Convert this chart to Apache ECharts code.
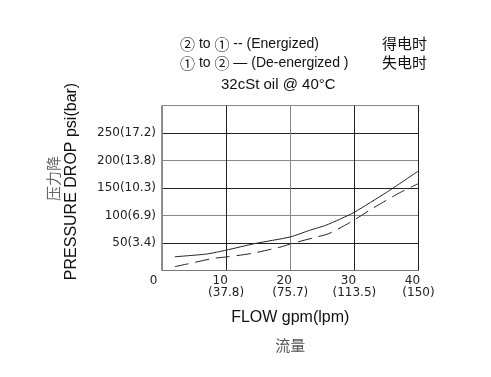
<!DOCTYPE html>
<html>
<head>
<meta charset="utf-8">
<script src="https://cdn.jsdelivr.net/npm/echarts@6/dist/echarts.min.js"></script>
<style>
  html, body { margin: 0; padding: 0; background: #fff; }
  #chart { width: 491px; height: 377px; }
</style>
</head>
<body>
<div id="chart"></div>
<script>
// 失电时 (De-energized) 实线
const deEnergizedFlow = [2, 7, 10, 14.5, 20, 23, 25.5, 27.7, 30, 35, 40];
const deEnergizedPsi = [25, 30, 37, 49, 61, 73, 82, 93, 106, 142, 181];
// 得电时 (Energized) 虚线
const energizedFlow = [2, 4, 8, 10.3, 14, 18.6, 20.2, 23.5, 26, 28.5, 30, 33, 37, 40];
const energizedPsi = [7, 12, 22, 25, 31, 43, 49, 59, 67, 82, 92, 114, 141, 158];

// 刻度标签
const psiTicks = [50, 100, 150, 200, 250];
const barLabels = ['3.4', '6.9', '10.3', '13.8', '17.2'];
const gpmTicks = [0, 10, 20, 30, 40];
const lpmLabels = ['', '37.8', '75.7', '113.5', '150'];

const chart = echarts.init(document.getElementById('chart'));

const latin = '"Liberation Sans", Arial, sans-serif';
const cjk = '"Noto Sans CJK SC", sans-serif';

const option = {
  backgroundColor: '#fff',
  animation: false,
  title: [
    {
      text: '{c|②} to {c|①} -- (Energized)',
      left: 175, top: 32,
      textStyle: {
        fontFamily: latin, fontSize: 14, fontWeight: 'normal', color: '#111',
        rich: { c: { fontFamily: cjk, fontSize: 15, color: '#111' } },
      },
    },
    {
      text: '{c|①} to {c|②} \u2014 (De-energized )',
      left: 175, top: 51,
      textStyle: {
        fontFamily: latin, fontSize: 14, fontWeight: 'normal', color: '#111',
        rich: { c: { fontFamily: cjk, fontSize: 15, color: '#111' } },
      },
    },
    {
      text: '32cSt oil @ 40°C',
      left: 216, top: 72,
      textStyle: { fontFamily: latin, fontSize: 15, fontWeight: 'normal', color: '#111' },
    },
    {
      text: '得电时',
      left: 377, top: 31,
      textStyle: { fontFamily: cjk, fontSize: 15, fontWeight: 'normal', color: '#111' },
    },
    {
      text: '失电时',
      left: 377, top: 50,
      textStyle: { fontFamily: cjk, fontSize: 15, fontWeight: 'normal', color: '#111' },
    },
  ],
  grid: {
    left: 162,
    right: 72.5,
    top: 105.5,
    bottom: 106.5,
    show: true,
    borderColor: '#222',
    borderWidth: 1,
  },
  xAxis: {
    type: 'value',
    min: 0,
    max: 40,
    interval: 10,
    name: '{en|FLOW gpm(lpm)}\n{zh|流量}',
    nameLocation: 'middle',
    nameGap: 33,
    nameTextStyle: {
      rich: {
        en: { fontFamily: latin, fontSize: 16, color: '#111', lineHeight: 28 },
        zh: { fontFamily: cjk, fontSize: 15, color: '#555', lineHeight: 28 },
      },
    },
    axisLine: { show: true, lineStyle: { color: '#777', width: 1 } },
    axisTick: { show: false },
    splitLine: {
      show: true,
      lineStyle: { color: ['#888', '#222', '#888', '#222', '#222'], width: 1 },
    },
    axisLabel: {
      margin: 4,
      fontFamily: '"DejaVu Sans", sans-serif',
      fontSize: 12,
      color: '#222',
      lineHeight: 12,
      formatter(value) {
        const i = gpmTicks.indexOf(value);
        if (i === 0) return `{z|${value}}`;
        return `{g|${value}}\n{l|(${lpmLabels[i]})}`;
      },
      rich: {
        z: { padding: [0, 17, 0, 0], fontSize: 12, lineHeight: 12 },
        g: { padding: [0, 12, 0, 0], fontSize: 12, lineHeight: 12 },
        l: { fontSize: 12, lineHeight: 12 },
      },
    },
  },
  yAxis: {
    type: 'value',
    min: 0,
    max: 300,
    interval: 50,
    axisLine: { show: true, lineStyle: { color: '#888', width: 1 } },
    axisTick: { show: false },
    splitLine: {
      show: true,
      lineStyle: { color: ['#888', '#222'], width: 1 },
    },
    axisLabel: {
      margin: 6,
      fontFamily: '"DejaVu Sans", sans-serif',
      fontSize: 12,
      color: '#222',
      formatter(value) {
        const i = psiTicks.indexOf(value);
        return i < 0 ? '' : `${value}(${barLabels[i]})`;
      },
    },
  },
  graphic: [
    {
      type: 'text',
      x: 72, y: 181.5,
      rotation: Math.PI / 2,
      style: {
        text: 'PRESSURE DROP psi(bar)',
        font: `16px ${latin}`,
        fill: '#111',
        align: 'center',
        verticalAlign: 'middle',
      },
    },
    {
      type: 'text',
      x: 53, y: 178.5,
      rotation: Math.PI / 2,
      style: {
        text: '压力降',
        font: `15px ${cjk}`,
        fill: '#666',
        align: 'center',
        verticalAlign: 'middle',
      },
    },
  ],
  series: [
    {
      name: 'De-energized',
      type: 'line',
      data: deEnergizedFlow.map((x, i) => [x, deEnergizedPsi[i]]),
      showSymbol: false,
      smooth: 0.2,
      lineStyle: { color: '#222', width: 1 },
    },
    {
      name: 'Energized',
      type: 'line',
      data: energizedFlow.map((x, i) => [x, energizedPsi[i]]),
      showSymbol: false,
      smooth: 0.2,
      lineStyle: { color: '#222', width: 1, type: [14, 7] },
    },
  ],
};

chart.setOption(option);
</script>
</body>
</html>
